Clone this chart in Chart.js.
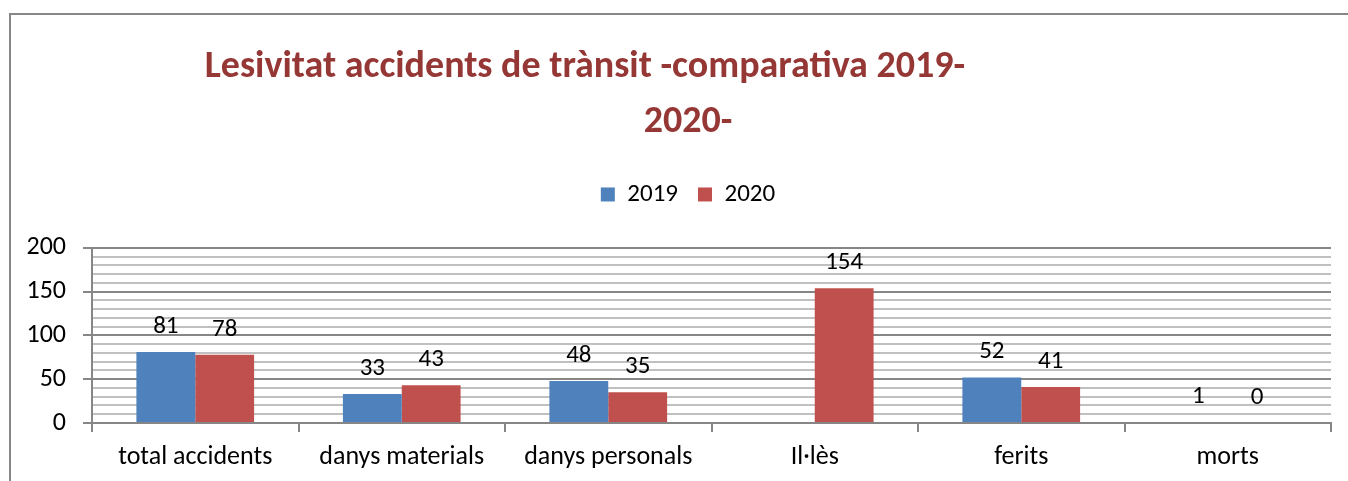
<!DOCTYPE html>
<html>
<head>
<meta charset="utf-8">
<script src="https://cdn.jsdelivr.net/npm/chart.js@4/dist/chart.umd.min.js"></script>
<style>
  body { margin: 0; background: #fff; overflow: hidden; }
  #frame {
    position: absolute; left: 9px; top: 13px;
    border-left: 2px solid #878787; border-top: 2px solid #878787;
    width: 1339px; height: 468px;
  }
</style>
</head>
<body>
<div id="frame"><canvas id="myChart" width="1337" height="466"></canvas></div>
<script>
// data
const categories = ['total accidents', 'danys materials', 'danys personals', 'Il·lès', 'ferits', 'morts']
const values2019 = [81, 33, 48, null, 52, 1]
const values2020 = [78, 43, 35, 154, 41, 0]
const seriesNames = ['2019', '2020']
// first line keeps its trailing blanks, as in the original title box
const titleLines = ['Lesivitat accidents de trànsit -comparativa 2019-' + ' '.repeat(24), '2020-']

const fontFamily = "Carlito, Lato, 'Open Sans', sans-serif"
const axisGray = '#868686'
const minorGray = '#c0c0c0'

// value labels drawn above each bar
const barLabels = {
  id: 'barLabels',
  afterDatasetsDraw(chart) {
    const ctx = chart.ctx
    ctx.save()
    ctx.font = '25px ' + fontFamily
    ctx.fillStyle = '#000'
    ctx.textAlign = 'center'
    ctx.textBaseline = 'alphabetic'
    chart.data.datasets.forEach((ds, i) => {
      chart.getDatasetMeta(i).data.forEach((bar, j) => {
        const v = ds.data[j]
        if (v === null || v === undefined) return
        ctx.fillText(String(v), bar.x, bar.y - 19)
      })
    })
    ctx.restore()
  }
}

// extra room under the legend, and title/legend centred a bit to the right
const headerLayout = {
  id: 'headerLayout',
  beforeInit(chart) {
    const fit = chart.legend.fit
    chart.legend.fit = function () {
      fit.bind(chart.legend)()
      this.height += 31
    }
  },
  afterLayout(chart) {
    chart.titleBlock.left += 34
    chart.legend.left += 34
  }
}

const data = {
  labels: categories,
  datasets: [
    { label: seriesNames[0], data: values2019, backgroundColor: '#4F81BD' },
    { label: seriesNames[1], data: values2020, backgroundColor: '#C0504D' }
  ]
}

const config = {
  type: 'bar',
  data,
  options: {
    responsive: false,
    animation: false,
    layout: { padding: { right: 17 } },
    datasets: { bar: { categoryPercentage: 0.57, barPercentage: 1 } },
    scales: {
      x: {
        afterFit: s => { s.height = 58 },
        grid: { drawOnChartArea: false, color: axisGray, tickLength: 9, lineWidth: 2 },
        border: { color: axisGray, width: 2 },
        ticks: { color: '#000', font: { size: 26, family: fontFamily }, padding: 10 }
      },
      y: {
        min: 0,
        max: 200,
        afterFit: s => { s.width = 81 },
        grid: {
          color: c => (c.tick && c.tick.value % 50 === 0) ? axisGray : minorGray,
          tickColor: c => (c.tick && c.tick.value % 50 === 0) ? axisGray : 'rgba(0,0,0,0)',
          lineWidth: 2,
          tickLength: 9
        },
        border: { color: axisGray, width: 2 },
        ticks: {
          stepSize: 10,
          autoSkip: false,
          padding: 17,
          color: '#000',
          font: { size: 26, family: fontFamily },
          callback: v => v % 50 === 0 ? v : ''
        }
      }
    },
    plugins: {
      title: {
        display: true,
        text: titleLines,
        color: '#953735',
        font: { size: 38, weight: 'bold', family: fontFamily, lineHeight: 1.447 },
        padding: { top: 25, bottom: 12 }
      },
      legend: {
        display: true,
        labels: {
          boxWidth: 14,
          boxHeight: 14,
          padding: 20,
          color: '#000',
          font: { size: 25, family: fontFamily }
        }
      },
      tooltip: { enabled: false }
    }
  },
  plugins: [barLabels, headerLayout]
}

const myChart = new Chart(document.getElementById('myChart'), config)
</script>
</body>
</html>
